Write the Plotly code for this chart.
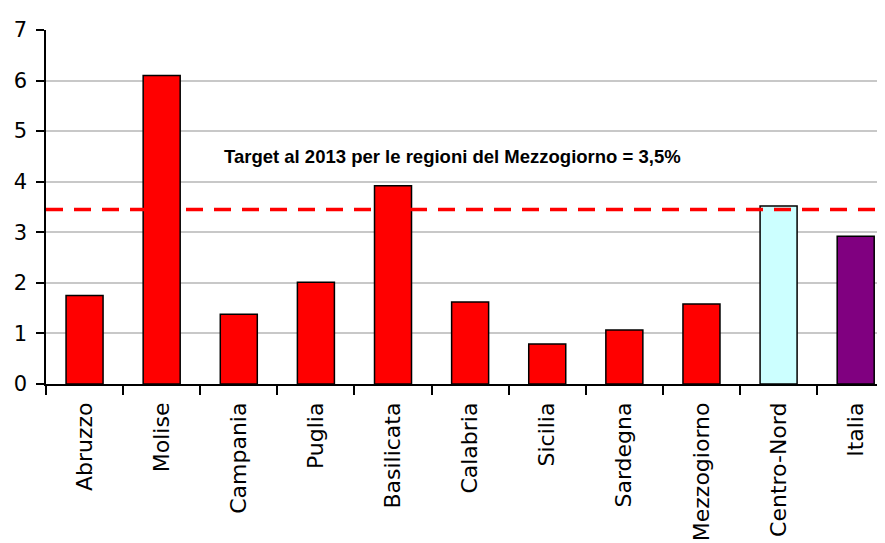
import plotly.graph_objects as go

categories = ["Abruzzo", "Molise", "Campania", "Puglia", "Basilicata", "Calabria",
              "Sicilia", "Sardegna", "Mezzogiorno", "Centro-Nord", "Italia"]
values = [1.75, 6.1, 1.38, 2.01, 3.92, 1.62, 0.79, 1.07, 1.58, 3.52, 2.92]
bar_colors = ["#FF0000"] * 9 + ["#CCFFFF", "#800080"]
target_value = 3.45
target_label = "Target al 2013 per le regioni del Mezzogiorno = 3,5%"
y_ticks = [0, 1, 2, 3, 4, 5, 6, 7]

fig = go.Figure()
fig.add_trace(go.Bar(
    x=categories, y=values,
    marker=dict(color=bar_colors, line=dict(color="#000000", width=1.5)),
    width=0.48,
))
fig.add_trace(go.Scatter(
    x=[-0.5, 10.5], y=[target_value, target_value], mode="lines",
    line=dict(color="#FF0000", width=3.5, dash="17px,11px"),
    xaxis="x2", hoverinfo="skip",
))
fig.add_annotation(
    x=0.485, xref="paper", y=4.5, yref="y",
    text="<b>" + target_label + "</b>", showarrow=False,
    font=dict(family="Liberation Sans, Arial, sans-serif", size=18.5, color="#000000"),
)
fig.update_layout(
    width=877, height=535,
    margin=dict(l=38, r=0, t=22, b=159, autoexpand=False),
    plot_bgcolor="#FFFFFF", paper_bgcolor="#FFFFFF",
    showlegend=False,
    font=dict(family="DejaVu Sans, sans-serif", color="#000000"),
    xaxis=dict(
        type="category", range=[-0.5, 10.38], automargin=False,
        showline=True, linecolor="#000000", linewidth=1.5,
        ticks="outside", tickson="boundaries", ticklen=9, tickcolor="#000000", tickwidth=1.5,
        ticklabelstandoff=8,
        tickangle=-90, tickfont=dict(size=22, family="DejaVu Sans, sans-serif"),
        showgrid=False,
    ),
    xaxis2=dict(overlaying="x", range=[-0.5, 10.38], visible=False),
    yaxis=dict(
        range=[0, 7], tickvals=y_ticks, automargin=False,
        showline=True, linecolor="#000000", linewidth=1.5,
        ticks="outside", ticklen=8, tickcolor="#000000", tickwidth=1.5,
        ticklabelstandoff=5,
        showgrid=True, gridcolor="#C8C8C8", gridwidth=1.5,
        tickfont=dict(size=21, family="DejaVu Sans, sans-serif"),
        zeroline=False,
    ),
)
fig.write_html("out.html")
